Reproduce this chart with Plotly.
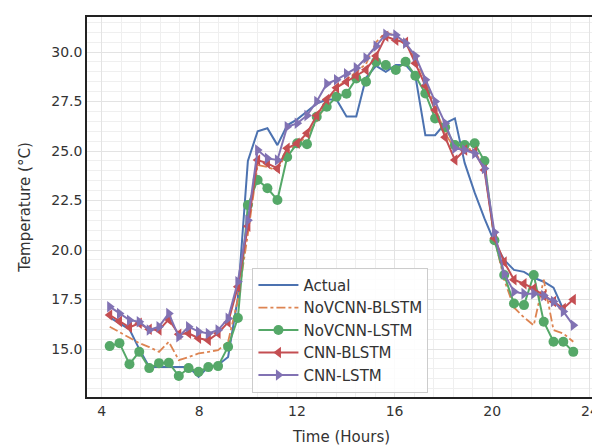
import plotly.graph_objects as go

hours = [4.33, 4.73, 5.14, 5.54, 5.95, 6.35, 6.75, 7.16, 7.56, 7.97, 8.37, 8.77,
         9.18, 9.58, 9.99, 10.39, 10.79, 11.20, 11.60, 12.01, 12.41, 12.81, 13.22, 13.62,
         14.03, 14.43, 14.83, 15.24, 15.64, 16.05, 16.45, 16.85, 17.26, 17.66, 18.07, 18.47,
         18.87, 19.28, 19.68, 20.09, 20.49, 20.89, 21.30, 21.70, 22.11, 22.51, 22.91, 23.32]

actual = [16.6, 16.3, 16.0, 15.0, 14.1, 14.1, 14.1, 14.1, 14.1, 13.6, 14.1, 14.2,
          14.6, 17.6, 24.5, 26.0, 26.15, 25.3, 26.3, 26.6, 27.0, 27.4, 27.6, 27.6,
          26.75, 26.75, 28.7, 29.3, 29.0, 29.35, 29.35, 28.8, 25.8, 25.8, 26.4, 26.65,
          24.4, 22.9, 21.6, 20.4, 19.5, 19.0, 18.9, 18.6, 18.4, 18.1, 17.0, None]

novcnn_blstm = [16.13, 15.85, 15.6, 15.3, 15.1, 14.86, 15.37, 14.44, 14.6, 14.78, 14.86, 14.95,
                15.37, 17.5, 20.8, 24.3, 24.2, 24.0, 25.0, 25.3, 25.8, 26.5, 27.5, 28.2,
                28.6, 29.0, 29.4, 30.5, 31.0, 30.8, 30.5, 29.6, 28.6, 27.2, 25.9, 25.1,
                25.2, 25.0, 24.1, 20.6, 18.5, 17.1, 16.6, 16.2, 18.5, 15.96, 15.79, 15.37]

novcnn_lstm = [15.15, 15.3, 14.24, 14.86, 14.04, 14.29, 14.31, 13.64, 14.04, 13.85, 14.09, 14.14,
               15.12, 16.57, 22.27, 23.54, 23.12, 22.53, 24.7, 25.39, 25.35, 26.73, 27.24, 27.74,
               27.9, 28.67, 28.5, 29.51, 29.34, 29.09, 29.51, 28.8, 27.91, 26.65, 26.2, 25.3,
               25.3, 25.39, 24.5, 20.5, 18.74, 17.3, 17.22, 18.74, 16.38, 15.37, 15.37, 14.86]

cnn_blstm = [16.72, 16.4, 16.1, 16.3, 16.0, 15.96, 16.5, 15.75, 15.8, 15.55, 15.45, 15.8,
             16.35, 18.15, 21.2, 24.55, 24.38, 24.12, 25.14, 25.39, 25.9, 26.8, 27.6, 28.2,
             28.5, 28.8, 29.1, 29.8, 30.8, 30.6, 30.5, 29.43, 28.3, 27.07, 25.7, 24.55,
             25.05, 24.96, 24.04, 20.6, 19.4, 18.5, 18.3, 18.06, 17.7, 17.4, 17.05, 17.5]

cnn_lstm = [17.14, 16.8, 16.46, 16.38, 15.96, 16.13, 16.8, 15.62, 16.13, 15.88, 15.79, 15.96,
            16.55, 18.4, 21.5, 25.05, 24.63, 24.55, 26.23, 26.4, 26.8, 27.5, 28.4, 28.6,
            28.9, 29.2, 29.7, 30.3, 30.9, 30.86, 30.45, 29.8, 28.6, 27.5, 26.4, 25.14,
            25.05, 24.88, 24.12, 20.9, 18.8, 17.9, 17.8, 17.8, 17.7, 17.4, 16.9, 16.2]

x_ticks = [4, 8, 12, 16, 20, 24]
y_ticks = [15.0, 17.5, 20.0, 22.5, 25.0, 27.5, 30.0]

fig = go.Figure()
fig.add_trace(go.Scatter(x=hours, y=actual, name="Actual", mode="lines",
                         line=dict(color="#4C72B0", width=2)))
fig.add_trace(go.Scatter(x=hours, y=novcnn_blstm, name="NoVCNN-BLSTM", mode="lines",
                         line=dict(color="#DD8452", width=1.8, dash="dashdot")))
fig.add_trace(go.Scatter(x=hours, y=novcnn_lstm, name="NoVCNN-LSTM", mode="lines+markers",
                         line=dict(color="#55A868", width=2),
                         marker=dict(symbol="circle", size=10, color="#55A868")))
fig.add_trace(go.Scatter(x=hours, y=cnn_blstm, name="CNN-BLSTM", mode="lines+markers",
                         line=dict(color="#C44E52", width=2),
                         marker=dict(symbol="triangle-left", size=10, color="#C44E52")))
fig.add_trace(go.Scatter(x=hours, y=cnn_lstm, name="CNN-LSTM", mode="lines+markers",
                         line=dict(color="#8172B3", width=2),
                         marker=dict(symbol="triangle-right", size=10, color="#8172B3")))

axis_common = dict(showline=True, linecolor="#222", linewidth=1.5, mirror=True,
                   showgrid=True, gridcolor="#e3e3e3", gridwidth=1, zeroline=False,
                   ticks="", tickfont=dict(size=14, color="#333"), automargin=False,
                   title_font=dict(size=15, color="#333"))

fig.update_xaxes(range=[3.4, 24.25], tickvals=x_ticks, ticktext=[str(v) for v in x_ticks],
                 title_text="Time (Hours)", title_standoff=16,
                 minor=dict(dtick=0.8, tick0=4, showgrid=True, gridcolor="#efefef", gridwidth=1),
                 **axis_common)
fig.update_yaxes(range=[12.58, 31.77], tickvals=y_ticks, ticktext=[f"{v:.1f}" for v in y_ticks],
                 title_text="Temperature (°C)", title_standoff=17,
                 minor=dict(dtick=0.5, tick0=15, showgrid=True, gridcolor="#efefef", gridwidth=1),
                 **axis_common)

fig.update_layout(
    template="none",
    width=592, height=438,
    margin=dict(l=79, r=4, t=9, b=49, autoexpand=False),
    paper_bgcolor="white", plot_bgcolor="white",
    font=dict(family="DejaVu Sans", color="#333"),
    legend=dict(x=0.325, y=0.34, xanchor="left", yanchor="top",
                bgcolor="rgba(255,255,255,0.85)", bordercolor="#cccccc", borderwidth=1,
                font=dict(size=15, color="#333"), itemwidth=40),
    showlegend=True,
)

fig.write_html("out.html")
